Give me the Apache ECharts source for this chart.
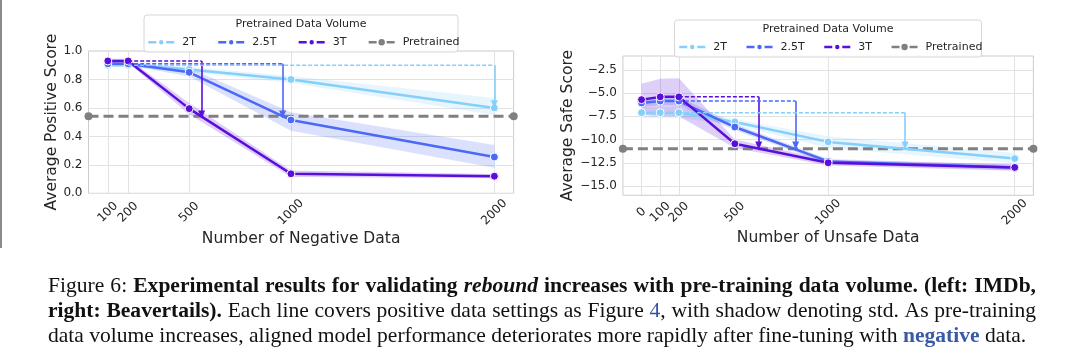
<!DOCTYPE html>
<html><head><meta charset="utf-8">
<script src="https://cdn.jsdelivr.net/npm/echarts@6/dist/echarts.min.js"></script>
<style>html,body{margin:0;padding:0;background:#fff;}#c{width:1080px;height:357px;}</style>
</head><body><div id="c"></div>
<script>
// ---------------- DATA ----------------
const volumes = ['2T', '2.5T', '3T'];
const legendNames = ['2T', '2.5T', '3T', 'Pretrained'];

// Left panel: IMDb
const xLeft = [100, 200, 500, 1000, 2000];
const imdb2T     = [0.90, 0.90, 0.87, 0.80, 0.60];
const imdb2T_lo  = [0.89, 0.89, 0.85, 0.775, 0.55];
const imdb2T_hi  = [0.91, 0.91, 0.89, 0.825, 0.67];
const imdb25T    = [0.91, 0.91, 0.85, 0.515, 0.255];
const imdb25T_lo = [0.90, 0.90, 0.82, 0.44, 0.18];
const imdb25T_hi = [0.92, 0.92, 0.88, 0.57, 0.34];
const imdb3T     = [0.93, 0.93, 0.595, 0.137, 0.12];
const imdb3T_lo  = [0.915, 0.915, 0.555, 0.115, 0.105];
const imdb3T_hi  = [0.945, 0.945, 0.635, 0.16, 0.135];
const imdbPretrained = 0.541;
const imdbLevel    = [0.90, 0.91, 0.93];   // dashed reference level per volume
const imdbArrowX   = [2000, 959, 561];     // x where arrow drops
const imdbArrowEnd = [0.625, 0.553, 0.553];

// Right panel: Beavertails
const xRight = [0, 100, 200, 500, 1000, 2000];
const bt2T     = [-7.1, -7.1, -7.1, -8.1, -10.25, -12.05];
const bt2T_lo  = [-7.7, -7.7, -7.7, -8.4, -10.9, -12.55];
const bt2T_hi  = [-6.5, -6.5, -6.5, -7.8, -9.65, -11.45];
const bt25T    = [-6.05, -5.85, -5.85, -8.65, -12.35, -13.0];
const bt25T_lo = [-6.5, -6.3, -6.3, -9.0, -12.6, -13.3];
const bt25T_hi = [-5.6, -5.4, -5.4, -8.3, -12.1, -12.7];
const bt3T     = [-5.7, -5.4, -5.4, -10.45, -12.5, -13.0];
const bt3T_lo  = [-7.3, -7.5, -7.5, -10.9, -12.8, -13.35];
const bt3T_hi  = [-4.0, -3.45, -3.4, -10.0, -12.2, -12.65];
const btPretrained = -11.0;
const btLevel    = [-7.1, -5.85, -5.4];
const btArrowX   = [1412, 826, 628];
const btArrowEnd = [-10.65, -10.65, -10.65];

const yRightTicks = [-15, -12.5, -10, -7.5, -5, -2.5];

// Caption (style:text, '|' joins pieces without space)
const captionLines = [
  'n:Figure n:6: b:Experimental b:results b:for b:validating bi:rebound b:increases b:with b:pre-training b:data b:volume. b:(left: b:IMDb,',
  'b:right: b:Beavertails). n:Each n:line n:covers n:positive n:data n:settings n:as n:Figure l:4|n:, n:with n:shadow n:denoting n:std. n:As n:pre-training',
  'n:data n:volume n:increases, n:aligned n:model n:performance n:deteriorates n:more n:rapidly n:after n:fine-tuning n:with lb:negative n:data.'
];

// ---------------- STYLE ----------------
const colors = ['#85cffb', '#4a69f7', '#5a0edc'];
const gray = '#808080';
const txt = '#262626';
const FF = 'DejaVu Sans';

const panels = [
  {x: xLeft, mean: [imdb2T, imdb25T, imdb3T], lo: [imdb2T_lo, imdb25T_lo, imdb3T_lo], hi: [imdb2T_hi, imdb25T_hi, imdb3T_hi],
   pre: imdbPretrained, level: imdbLevel, ax: imdbArrowX, aend: imdbArrowEnd, xmin: 5, xmax: 2095},
  {x: xRight, mean: [bt2T, bt25T, bt3T], lo: [bt2T_lo, bt25T_lo, bt3T_lo], hi: [bt2T_hi, bt25T_hi, bt3T_hi],
   pre: btPretrained, level: btLevel, ax: btArrowX, aend: btArrowEnd, xmin: -100, xmax: 2100}
];

const series = [];
panels.forEach((P, gi) => {
  // bands
  volumes.forEach((v, k) => {
    const lo = P.lo[k], hi = P.hi[k], xs = P.x;
    series.push({
      type: 'custom', xAxisIndex: gi, yAxisIndex: gi, silent: true, z: 1,
      data: xs.map((x, i) => [x, lo[i], hi[i]]),
      encode: {x: 0, y: [1, 2]},
      renderItem: (params, api) => {
        if (params.dataIndex !== 0) return null;
        const up = xs.map((x, i) => api.coord([x, hi[i]]));
        const dn = xs.map((x, i) => api.coord([x, lo[i]])).reverse();
        return {type: 'polygon', shape: {points: up.concat(dn)}, style: {fill: colors[k], opacity: 0.2}};
      }
    });
  });
  // pretrained line
  series.push({
    type: 'line', name: 'Pretrained', xAxisIndex: gi, yAxisIndex: gi, z: 2, clip: false,
    data: [[P.xmin, P.pre], [P.xmax, P.pre]],
    symbol: 'circle', symbolSize: 8, showSymbol: true,
    lineStyle: {type: [10, 5], width: 3, color: gray}, itemStyle: {color: gray}
  });
  // main lines
  volumes.forEach((v, k) => {
    series.push({
      type: 'line', name: v, xAxisIndex: gi, yAxisIndex: gi, z: 3 + k,
      data: P.x.map((x, i) => [x, P.mean[k][i]]),
      symbol: 'circle', symbolSize: 8, showSymbol: true,
      lineStyle: {width: 2.5, color: colors[k]},
      itemStyle: {color: colors[k], borderColor: '#fff', borderWidth: 1}
    });
  });
  // dashed levels + arrows
  volumes.forEach((v, k) => {
    series.push({
      type: 'line', xAxisIndex: gi, yAxisIndex: gi, z: 6, silent: true,
      data: [[P.x[gi === 0 ? 1 : 2], P.level[k]], [P.ax[k], P.level[k]]],
      symbol: 'none', lineStyle: {type: [4, 2], width: 1.5, color: colors[k]},
      markLine: {
        silent: true, symbol: ['none', 'triangle'], symbolSize: [7, 8], animation: false,
        label: {show: false},
        lineStyle: {type: 'solid', width: 1.6, color: colors[k]},
        data: [[{coord: [P.ax[k], P.level[k]]}, {coord: [P.ax[k], P.aend[k]]}]]
      }
    });
  });
});

// ---------------- CAPTION LAYOUT ----------------
const CAP_FONT = 'Liberation Serif';
const styleMap = {
  n: {fontWeight: 'normal', fontStyle: 'normal', fill: '#111'},
  b: {fontWeight: 'bold', fontStyle: 'normal', fill: '#111'},
  bi: {fontWeight: 'bold', fontStyle: 'italic', fill: '#111'},
  l: {fontWeight: 'normal', fontStyle: 'normal', fill: '#3450a8'},
  lb: {fontWeight: 'bold', fontStyle: 'normal', fill: '#3a5aa6'}
};
const cv = document.createElement('canvas').getContext('2d');
function measure(text, st, fs) {
  const s = styleMap[st];
  cv.font = `${s.fontStyle} ${s.fontWeight} ${fs}px ${CAP_FONT}`;
  return cv.measureText(text).width;
}
const capWords = captionLines.map(line => line.split(' ').map(w => w.split('|').map(p => {
  const i = p.indexOf(':'); return {st: p.slice(0, i), t: p.slice(i + 1)};
})));
const CX0 = 48, CX1 = 1036, L3END = 1027;
const capY = [286, 311, 336];
function wordW(word, fs) { return word.reduce((a, p) => a + measure(p.t, p.st, fs), 0); }
function natural(words, fs) { return words.reduce((a, w) => a + wordW(w, fs), 0) + (words.length - 1) * measure(' ', 'n', fs); }
let fs = 20 * (L3END - CX0) / natural(capWords[2], 20);
for (let li = 0; li < 2; li++) {
  const n = natural(capWords[li], 20);
  fs = Math.min(fs, 20 * (CX1 - CX0) / (n * 0.985));
}
const graphics = [];
capWords.forEach((words, li) => {
  const ws = words.map(w => wordW(w, fs));
  const sum = ws.reduce((a, b) => a + b, 0);
  const gap = li < 2 ? (CX1 - CX0 - sum) / (words.length - 1) : measure(' ', 'n', fs);
  let x = CX0;
  words.forEach((w, wi) => {
    let px = x;
    w.forEach(p => {
      const s = styleMap[p.st];
      graphics.push({type: 'text', x: px, y: capY[li], silent: true, style: {
        text: p.t, fontSize: fs, fontFamily: CAP_FONT, fontWeight: s.fontWeight, fontStyle: s.fontStyle,
        fill: s.fill, align: 'left', verticalAlign: 'middle', textAlign: 'left', textVerticalAlign: 'middle'}});
      px += measure(p.t, p.st, fs);
    });
    x += ws[wi] + gap;
  });
});

// legend frames and titles
const legendBoxes = [
  {x: 144, y: 15, w: 314, h: 37, tx: 301, ty: 24.5},
  {x: 674.5, y: 20, w: 307, h: 37, tx: 828, ty: 29.5}
];
legendBoxes.forEach(b => {
  graphics.push({type: 'rect', z: 50, silent: true, shape: {x: b.x, y: b.y, width: b.w, height: b.h, r: 3},
    style: {fill: 'rgba(255,255,255,0.85)', stroke: '#d6d6d6', lineWidth: 1}});
  graphics.push({type: 'text', z: 51, silent: true, x: b.tx, y: b.ty, style: {text: 'Pretrained Data Volume',
    fontSize: 11, fontFamily: FF, fill: txt, align: 'center', verticalAlign: 'middle', textAlign: 'center', textVerticalAlign: 'middle'}});
});
graphics.push({type: 'line', silent: true, shape: {x1: 1, y1: 0, x2: 1, y2: 248}, style: {stroke: '#8a8a8a', lineWidth: 2}});

// ---------------- AXES ----------------
const fmt1 = v => (v < 0 ? '\u2212' : '') + Math.abs(v).toFixed(1);
function xAx(gi, vals, mn, mx, name, gap, margin) {
  return {gridIndex: gi, type: 'value', min: mn, max: mx, name, nameLocation: 'middle', nameGap: gap,
    nameTextStyle: {fontSize: 15.5, color: txt, fontFamily: FF},
    axisLine: {show: false}, axisTick: {show: false, customValues: vals},
    axisLabel: {customValues: vals, rotate: 45, align: 'center', verticalAlign: 'middle', margin,
      fontSize: 12, color: txt, fontFamily: FF, formatter: v => String(v)},
    splitLine: {show: true, lineStyle: {color: '#e2e2e2', width: 1}}};
}
const option = {
  animation: false,
  backgroundColor: '#fff',
  grid: [
    {left: 88.5, top: 51, width: 425.2, height: 142.3, show: true, borderColor: '#cccccc', borderWidth: 1, outerBoundsMode: 'none'},
    {left: 622.9, top: 56, width: 410.5, height: 139.3, show: true, borderColor: '#cccccc', borderWidth: 1, outerBoundsMode: 'none'}
  ],
  xAxis: [
    xAx(0, xLeft, 5, 2095, 'Number of Negative Data', 38, 19),
    xAx(1, xRight, -100, 2100, 'Number of Unsafe Data', 35, 17)
  ],
  yAxis: [
    {gridIndex: 0, type: 'value', min: 0, max: 1, interval: 0.2, name: 'Average Positive Score', nameLocation: 'middle', nameGap: 28,
     nameTextStyle: {fontSize: 15.5, color: txt, fontFamily: FF},
     axisLine: {show: false}, axisTick: {show: false},
     axisLabel: {fontSize: 12, color: txt, fontFamily: FF, margin: 6, formatter: v => v.toFixed(1)},
     splitLine: {show: true, lineStyle: {color: '#e2e2e2', width: 1}}},
    {gridIndex: 1, type: 'value', min: -16, max: -1, name: 'Average Safe Score', nameLocation: 'middle', nameGap: 40,
     nameTextStyle: {fontSize: 15.5, color: txt, fontFamily: FF},
     axisLine: {show: false}, axisTick: {show: false, customValues: yRightTicks},
     axisLabel: {customValues: yRightTicks, fontSize: 12, color: txt, fontFamily: FF, margin: 6, formatter: fmt1},
     splitLine: {show: true, lineStyle: {color: '#e2e2e2', width: 1}}}
  ],
  legend: [
    {left: 147, top: 36.7, padding: 0, itemWidth: 26, itemHeight: 8, itemGap: 21, data: legendNames, z: 60,
     lineStyle: {type: [8, 10], width: 2.5}, textStyle: {fontSize: 11, fontFamily: FF, color: txt, padding: [0, 0, 0, 3]}},
    {left: 678, top: 41.5, padding: 0, itemWidth: 26, itemHeight: 8, itemGap: 18.3, data: legendNames, z: 60,
     lineStyle: {type: [8, 10], width: 2.5}, textStyle: {fontSize: 11, fontFamily: FF, color: txt, padding: [0, 0, 0, 3]}}
  ],
  graphic: graphics,
  series
};
const chart = echarts.init(document.getElementById('c'), null, {renderer: 'canvas', width: 1080, height: 357});
chart.setOption(option);
</script>
</body></html>
